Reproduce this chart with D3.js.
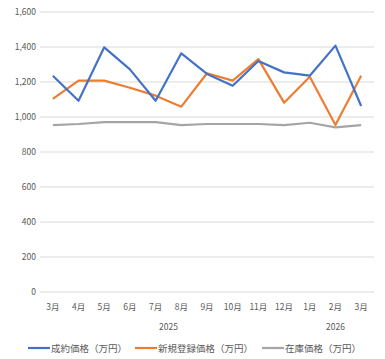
<!DOCTYPE html>
<html><head><meta charset="utf-8">
<script src="https://cdn.jsdelivr.net/npm/d3@7"></script>
<style>body{margin:0;background:#fff}svg{display:block}text{font-family:"Noto Sans CJK JP","Noto Sans",sans-serif;fill:#595959}</style>
</head><body><svg id="c" width="385" height="359"></svg>
<script>
const months = ["3月","4月","5月","6月","7月","8月","9月","10月","11月","12月","1月","2月","3月"];
const years = [{label:"2025", from:0, to:9},{label:"2026", from:10, to:12}];
const contract = [1236,1093,1398,1272,1093,1364,1246,1179,1320,1255,1236,1408,1063];
const newListing = [1103,1208,1208,1167,1122,1059,1250,1208,1331,1082,1230,954,1236];
const stock = [954,960,971,971,971,954,960,960,960,954,967,941,954];
const yTicks = [0,200,400,600,800,1000,1200,1400,1600];
const seriesNames = ["成約価格（万円）","新規登録価格（万円）","在庫価格（万円）"];
const colors = ["#4472C4","#ED7D31","#A5A5A5"];

const svg = d3.select("#c");
const x = d3.scaleBand().domain(d3.range(months.length)).range([40,374]);
const y = d3.scaleLinear().domain([0,1600]).range([292,12]);

svg.append("g").selectAll("line").data(yTicks).join("line")
  .attr("x1",40).attr("x2",374).attr("y1",d=>y(d)).attr("y2",d=>y(d))
  .attr("stroke","#d9d9d9").attr("stroke-width",1);
svg.append("g").selectAll("text").data(yTicks).join("text")
  .attr("x",36).attr("y",d=>y(d)+3).attr("text-anchor","end").attr("font-size","8.5px")
  .text(d=>d3.format(",")(d));
svg.append("g").selectAll("text").data(months).join("text")
  .attr("x",(d,i)=>x(i)+x.bandwidth()/2).attr("y",310).attr("text-anchor","middle").attr("font-size","8.5px")
  .text(d=>d);
svg.append("g").selectAll("text").data(years).join("text")
  .attr("x",d=>(x(d.from)+x(d.to)+x.bandwidth())/2).attr("y",330).attr("text-anchor","middle").attr("font-size","8.5px")
  .text(d=>d.label);

const line = d3.line().x((d,i)=>x(i)+x.bandwidth()/2).y(d=>y(d));
[stock,newListing,contract].forEach((s,k)=>{
  const idx=[2,1,0][k];
  svg.append("path").datum(s).attr("d",line).attr("fill","none")
    .attr("stroke",colors[idx]).attr("stroke-width",2.2).attr("stroke-linejoin","round");
});

const legX=[28,135,262];
seriesNames.forEach((n,i)=>{
  svg.append("line").attr("x1",legX[i]).attr("x2",legX[i]+22).attr("y1",348).attr("y2",348)
    .attr("stroke",colors[i]).attr("stroke-width",2.2);
  svg.append("text").attr("x",legX[i]+23).attr("y",351.5).attr("font-size","9.5px").text(n);
});
</script></body></html>
